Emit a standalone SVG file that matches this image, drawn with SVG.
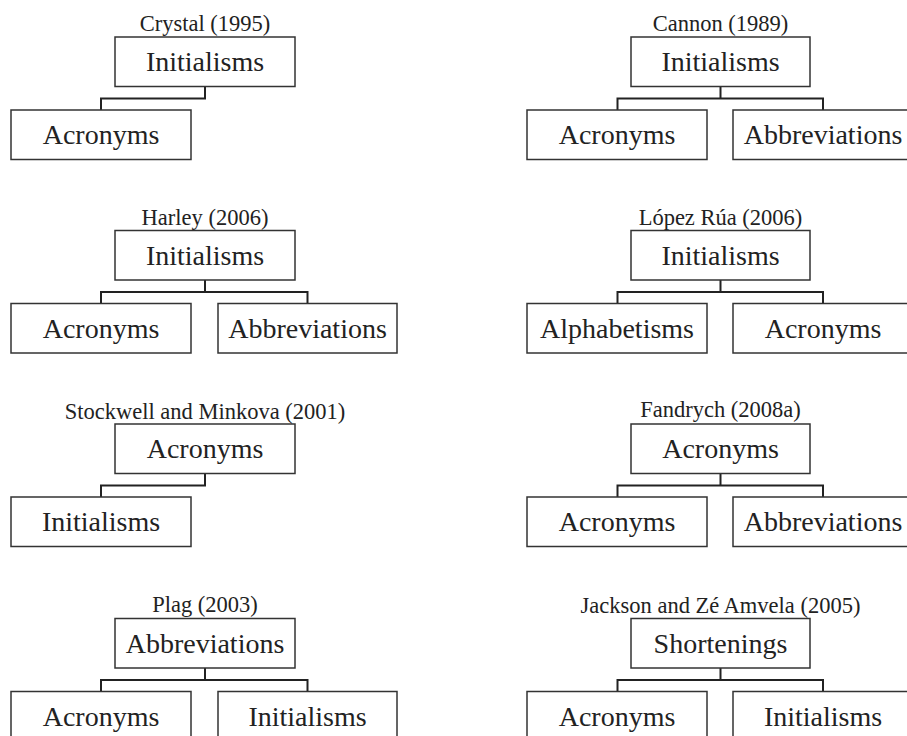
<svg xmlns="http://www.w3.org/2000/svg" width="907" height="736" viewBox="0 0 907 736">
<style>
  .box { fill: #ffffff; stroke: #333333; stroke-width: 1.5; }
  .lbl { font-family: "Liberation Serif", "Times New Roman", serif; font-size: 28px; fill: #222222; text-anchor: middle; }
  .ttl { font-family: "Liberation Serif", "Times New Roman", serif; font-size: 22.5px; fill: #222222; text-anchor: middle; }
  .con { fill: none; stroke: #222222; stroke-width: 2; }
</style>
<rect width="907" height="736" fill="#ffffff"/>

<g id="connectors">
  <!-- Crystal -->
  <path class="con" d="M205,86.5 V98.5 H101 V110"/>
  <!-- Cannon -->
  <path class="con" d="M720.5,86.5 V98.5 M617.5,110 V98.5 H823 V110"/>
  <!-- Harley -->
  <path class="con" d="M205,280 V292 M101,303.5 V292 H307.5 V303.5"/>
  <!-- Lopez Rua -->
  <path class="con" d="M720.5,280 V292 M617.5,303.5 V292 H823 V303.5"/>
  <!-- Stockwell -->
  <path class="con" d="M205,473.5 V485.5 H101 V497"/>
  <!-- Fandrych -->
  <path class="con" d="M720.5,473.5 V485.5 M617.5,497 V485.5 H823 V497"/>
  <!-- Plag -->
  <path class="con" d="M205,668 V680 M101,691.5 V680 H307.5 V691.5"/>
  <!-- Jackson -->
  <path class="con" d="M720.5,668 V680 M617.5,691.5 V680 H823 V691.5"/>
</g>

<!-- Row 1 -->
<g id="crystal-title"><text class="ttl" x="205" y="31">Crystal (1995)</text></g>
<g id="crystal-initialisms"><rect class="box" x="115" y="37" width="180" height="49.5"/><text class="lbl" x="205" y="71">Initialisms</text></g>
<g id="crystal-acronyms"><rect class="box" x="11" y="110" width="180" height="49.5"/><text class="lbl" x="101" y="144">Acronyms</text></g>

<g id="cannon-title"><text class="ttl" x="720.5" y="31">Cannon (1989)</text></g>
<g id="cannon-initialisms"><rect class="box" x="631" y="37" width="179" height="49.5"/><text class="lbl" x="720.5" y="71">Initialisms</text></g>
<g id="cannon-acronyms"><rect class="box" x="527" y="110" width="180" height="49.5"/><text class="lbl" x="617" y="144">Acronyms</text></g>
<g id="cannon-abbreviations"><rect class="box" x="733" y="110" width="180" height="49.5"/><text class="lbl" x="823" y="144">Abbreviations</text></g>

<!-- Row 2 -->
<g id="harley-title"><text class="ttl" x="205" y="224.5">Harley (2006)</text></g>
<g id="harley-initialisms"><rect class="box" x="115" y="230.5" width="180" height="49.5"/><text class="lbl" x="205" y="264.5">Initialisms</text></g>
<g id="harley-acronyms"><rect class="box" x="11" y="303.5" width="180" height="49.5"/><text class="lbl" x="101" y="337.5">Acronyms</text></g>
<g id="harley-abbreviations"><rect class="box" x="218" y="303.5" width="179" height="49.5"/><text class="lbl" x="307.5" y="337.5">Abbreviations</text></g>

<g id="lopez-title"><text class="ttl" x="720.5" y="224.5">López Rúa (2006)</text></g>
<g id="lopez-initialisms"><rect class="box" x="631" y="230.5" width="179" height="49.5"/><text class="lbl" x="720.5" y="264.5">Initialisms</text></g>
<g id="lopez-alphabetisms"><rect class="box" x="527" y="303.5" width="180" height="49.5"/><text class="lbl" x="617" y="337.5">Alphabetisms</text></g>
<g id="lopez-acronyms"><rect class="box" x="733" y="303.5" width="180" height="49.5"/><text class="lbl" x="823" y="337.5">Acronyms</text></g>

<!-- Row 3 -->
<g id="stockwell-title"><text class="ttl" x="205" y="419">Stockwell and Minkova (2001)</text></g>
<g id="stockwell-acronyms"><rect class="box" x="115" y="424" width="180" height="49.5"/><text class="lbl" x="205" y="458">Acronyms</text></g>
<g id="stockwell-initialisms"><rect class="box" x="11" y="497" width="180" height="49.5"/><text class="lbl" x="101" y="531">Initialisms</text></g>

<g id="fandrych-title"><text class="ttl" x="720.5" y="417">Fandrych (2008a)</text></g>
<g id="fandrych-acronyms"><rect class="box" x="631" y="424" width="179" height="49.5"/><text class="lbl" x="720.5" y="458">Acronyms</text></g>
<g id="fandrych-acronyms2"><rect class="box" x="527" y="497" width="180" height="49.5"/><text class="lbl" x="617" y="531">Acronyms</text></g>
<g id="fandrych-abbreviations"><rect class="box" x="733" y="497" width="180" height="49.5"/><text class="lbl" x="823" y="531">Abbreviations</text></g>

<!-- Row 4 -->
<g id="plag-title"><text class="ttl" x="205" y="612">Plag (2003)</text></g>
<g id="plag-abbreviations"><rect class="box" x="115" y="618.5" width="180" height="49.5"/><text class="lbl" x="205" y="652.5">Abbreviations</text></g>
<g id="plag-acronyms"><rect class="box" x="11" y="691.5" width="180" height="49.5"/><text class="lbl" x="101" y="725.5">Acronyms</text></g>
<g id="plag-initialisms"><rect class="box" x="218" y="691.5" width="179" height="49.5"/><text class="lbl" x="307.5" y="725.5">Initialisms</text></g>

<g id="jackson-title"><text class="ttl" x="720.5" y="613">Jackson and Zé Amvela (2005)</text></g>
<g id="jackson-shortenings"><rect class="box" x="631" y="618.5" width="179" height="49.5"/><text class="lbl" x="720.5" y="652.5">Shortenings</text></g>
<g id="jackson-acronyms"><rect class="box" x="527" y="691.5" width="180" height="49.5"/><text class="lbl" x="617" y="725.5">Acronyms</text></g>
<g id="jackson-initialisms"><rect class="box" x="733" y="691.5" width="180" height="49.5"/><text class="lbl" x="823" y="725.5">Initialisms</text></g>
</svg>
